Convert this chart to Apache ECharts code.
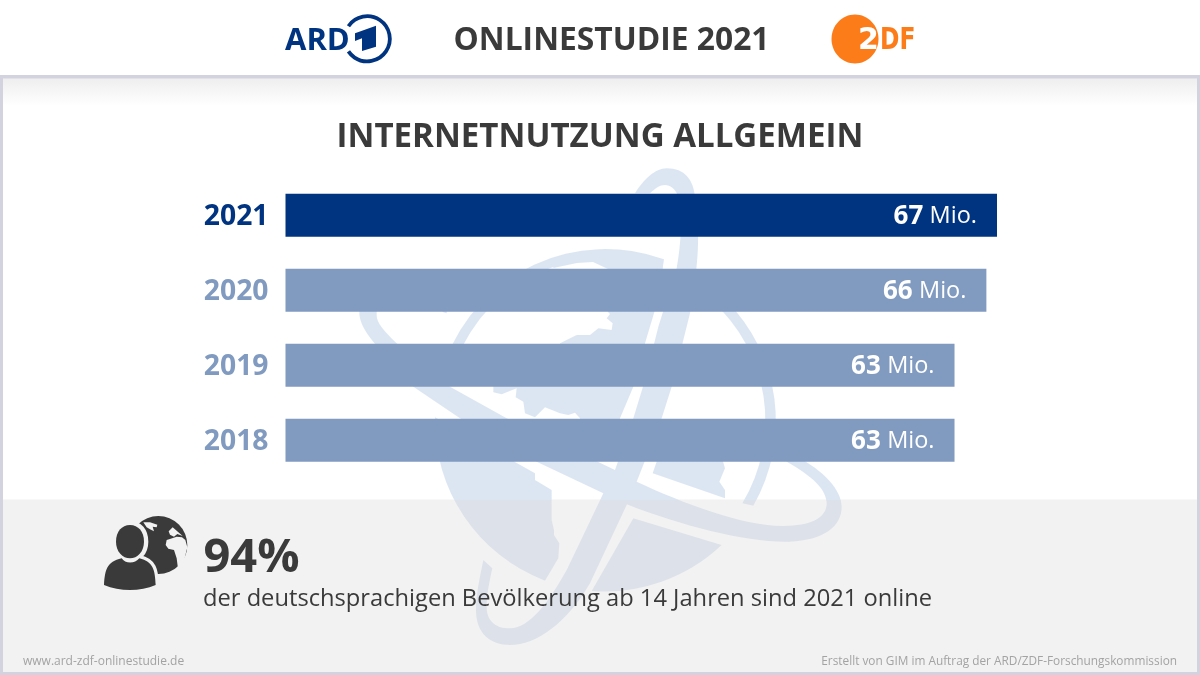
<!DOCTYPE html>
<html><head><meta charset="utf-8">
<style>html,body{margin:0;padding:0;background:#fff}#c{width:1200px;height:675px}</style>
<script src="https://cdn.jsdelivr.net/npm/echarts@6/dist/echarts.min.js"></script>
</head><body><div id="c"></div>
<script>
const years = ['2021','2020','2019','2018'];
const millions = [67,66,63,63];
const barColors = ['#003480','#809ac0','#809ac0','#809ac0'];
const labelColors = ['#003480','#809ac0','#809ac0','#809ac0'];
const unit = 'Mio.';
const headerTitle = 'ONLINESTUDIE 2021';
const chartTitle = 'INTERNETNUTZUNG ALLGEMEIN';
const bigValue = '94%';
const bigCaption = 'der deutschsprachigen Bevölkerung ab 14 Jahren sind 2021 online';
const footLeft = 'www.ard-zdf-onlinestudie.de';
const footRight = 'Erstellt von GIM im Auftrag der ARD/ZDF-Forschungskommission';

const F = '"Open Sans"';
const DARK = '#3a3a3a', BG = '#f2f2f2', FRAME = '#d3d3e0', BLUE = '#003480', ORANGE = '#fc7c1a';

const watermark = [
 'M28,400 L28,460 C30,500 60,540 130,610 L190,680 L330,775 L560,905 L760,1000 L830,1033 C1000,1100 1200,1150 1320,1145 C1420,1140 1475,1100 1475,1040 C1475,990 1420,930 1340,890 L1300,890 L1310,905 C1390,950 1430,990 1430,1030 C1430,1075 1380,1098 1300,1098 C1180,1098 1000,1030 860,965 L795,930 L470,775 L300,680 L140,550 C100,510 80,490 80,465 L80,400 Z',
 'M855,100 C880,60 915,25 950,25 C1005,25 1030,60 1035,110 C1055,250 1040,330 1020,460 L965,680 L935,775 L860,965 L830,1035 L720,1270 C650,1390 560,1455 480,1455 C420,1455 378,1420 378,1350 C378,1300 390,1250 400,1200 L427,1225 C415,1280 410,1310 410,1340 C410,1385 440,1405 480,1405 C540,1405 600,1320 650,1230 L760,1000 L795,930 L850,775 L885,660 L925,500 L980,325 C990,270 1000,180 985,110 C975,85 960,75 945,75 C930,75 915,85 900,100 Z',
 'M287,600 A512,512 0 0 1 942,298 L938,325 A482,482 0 0 0 319,600 Z',
 'M1127,420 A512,512 0 0 1 1210,1037 L1177,1030 A482,482 0 0 0 1083,420 Z',
 'M610,324 L681,309 L729,306 L774,327 L774,456 L780,462 L770,475 L788,490 L785,510 L745,505 L720,525 L680,525 L630,550 L630,600 L885,600 L885,550 L912,460 L938,330 L938,300 L729,290 L610,300 Z',
 'M270,445 L290,445 L290,460 L280,457 Z',
 'M430,670 L850,670 L850,680 L810,775 L810,790 L690,790 L690,775 L675,758 L655,765 L630,760 L585,742 L555,772 L525,760 L520,725 L497,712 L500,685 L455,703 L430,697 Z',
 'M255,772 L555,940 L555,960 L605,990 L605,1080 L612,1110 L612,1125 L628,1150 L625,1195 L585,1262 A512,512 0 0 1 255,772 Z',
 'M850,1075 L1115,1155 A512,512 0 0 1 725,1293 Z',
 'M925,890 L1115,890 L1125,925 L1108,965 L1125,990 L1125,1015 L908,940 Z'
];

const personBody = 'M312,285 C315,240 320,215 365,205 C375,222 405,222 418,205 C460,215 465,240 467,285 C420,305 360,305 312,285 Z';
const personHead = 'M390,105 C365,105 348,125 348,155 C348,185 368,205 390,205 C412,205 432,185 432,155 C432,125 415,105 390,105 Z';
const iconLand = 'M430,97 L450,97 L472,104 L470,112 L458,110 L462,124 L450,118 L440,112 Z M506,124 L518,112 L530,122 L548,138 L532,132 L522,140 L510,134 Z M497,165 L500,150 L512,146 L530,140 L546,142 L556,150 L562,172 L552,212 L534,236 L530,205 L522,180 L505,176 Z';
const iconGlobe = 'M388,165 A87,87 0 1 1 562,165 A87,87 0 1 1 388,165 Z';
const ardOne = 'M355,33.3 L376,25.7 L376,46.7 L362,51 L362,38.3 L355,41 Z';

const txt = (x,y,text,size,weight,fill,align,family,sx) => ({
  type:'text', x, y, z:10, scaleX:sx||1, style:{ text, fontFamily: family||F, fontSize:size, fontWeight:weight, fill, textAlign:align||'left', textVerticalAlign:'middle' }
});
const icon = (d,fill,extra) => ({ type:'path', x:0, y:490, scaleX:1/3, scaleY:1/3, shape:{pathData:d}, style:Object.assign({fill},extra||{}) });
const washFill = {type:'linear',global:true,x:0,y:0,x2:0,y2:1500,colorStops:[
  {offset:0,color:'#dce6f2'},{offset:0.68,color:'#dce6f2'},{offset:0.68,color:'#dde2ea'},{offset:1,color:'#dde2ea'}]};

const decoration = () => ({ type:'group', children:
  watermark.map(d=>({type:'path', x:350, y:160, scaleX:1/3, scaleY:1/3, shape:{pathData:d}, style:{fill:washFill}})).concat([
  {type:'path', shape:{pathData:ardOne}, style:{fill:BLUE}},
  icon(iconGlobe,DARK),
  icon(iconLand,BG),
  icon(personHead,BG,{stroke:BG,lineWidth:26}),
  icon(personBody,BG,{stroke:BG,lineWidth:20}),
  icon(personHead,DARK),
  icon(personBody,DARK)
])});

const graphics = [
  {type:'rect', z:0, shape:{x:0,y:0,width:1200,height:675}, style:{fill:'#fff'}},
  {type:'rect', z:0, shape:{x:0,y:499.5,width:1200,height:176}, style:{fill:BG}},
  {type:'rect', z:0, shape:{x:0,y:78,width:1200,height:28}, style:{fill:{type:'linear',x:0,y:0,x2:0,y2:1,colorStops:[{offset:0,color:'#eeeeee'},{offset:1,color:'#ffffff'}]}}},
  {type:'rect', z:10, shape:{x:0,y:75,width:1200,height:3.5}, style:{fill:FRAME}},
  {type:'rect', z:10, shape:{x:0,y:75,width:3,height:600}, style:{fill:FRAME}},
  {type:'rect', z:10, shape:{x:1197,y:75,width:3,height:600}, style:{fill:FRAME}},
  {type:'rect', z:10, shape:{x:0,y:672,width:1200,height:3}, style:{fill:FRAME}},
  txt(285,41,'ARD',31,700,BLUE),
  {type:'arc', z:10, shape:{cx:367.2,cy:38.8,r:22.6,startAngle:-2.55,endAngle:2.55,clockwise:true}, style:{stroke:BLUE,lineWidth:3.8,fill:'none'}},
  txt(611.5,40.5,headerTitle,33,700,DARK,'center',F,0.963),
  {type:'ellipse', z:0, shape:{cx:855,cy:39,rx:23.5,ry:24.5}, style:{fill:ORANGE}},
  txt(858,41,'2',30,700,'#fff','left','"DejaVu Sans"'),
  txt(880,41,'DF',30,700,ORANGE,'left','"DejaVu Sans"',0.78),
  txt(600,137.5,chartTitle,33.1,700,DARK,'center'),
  txt(203.5,559,bigValue,47,700,DARK),
  txt(203,599,bigCaption,23.7,400,DARK),
  txt(23,661.5,footLeft,12,400,'#a3a3a3'),
  txt(1177,661.5,footRight,11.83,400,'#a3a3a3','right')
];

const chart = echarts.init(document.getElementById('c'), null, {renderer:'canvas'});
const yearRich = {};
labelColors.forEach((c,i)=>{ yearRich['y'+i] = {color:c,fontFamily:F,fontSize:28.3,fontWeight:700,padding:[3,0,0,0]}; });
chart.setOption({
  animation:false,
  backgroundColor:'transparent',
  graphic:{elements:graphics},
  grid:{left:285.5,top:177.7,width:711.5,height:300,containLabel:false},
  xAxis:{type:'value',min:0,max:67,show:false},
  yAxis:{type:'category',inverse:true,data:years,
    axisLine:{show:false},axisTick:{show:false},
    axisLabel:{margin:17,formatter:(v,i)=>'{y'+i+'|'+v+'}',rich:yearRich}},
  series:[
   {type:'custom',coordinateSystem:'none',silent:true,z:1,clip:false,data:[0],renderItem:decoration},
   {type:'bar',z:5,barWidth:43,
    data:millions.map((v,i)=>({value:v,itemStyle:{color:barColors[i]}})),
    label:{show:true,position:'insideRight',distance:20,
      formatter:p=>'{b|'+p.value+'} {m|'+unit+'}',
      rich:{
        b:{color:'#fff',fontFamily:F,fontSize:26,fontWeight:700,padding:[3,0,0,0]},
        m:{color:'#fff',fontFamily:F,fontSize:23.5,fontWeight:400,padding:[3,0,0,3]}
      }}
   }]
});
</script></body></html>
